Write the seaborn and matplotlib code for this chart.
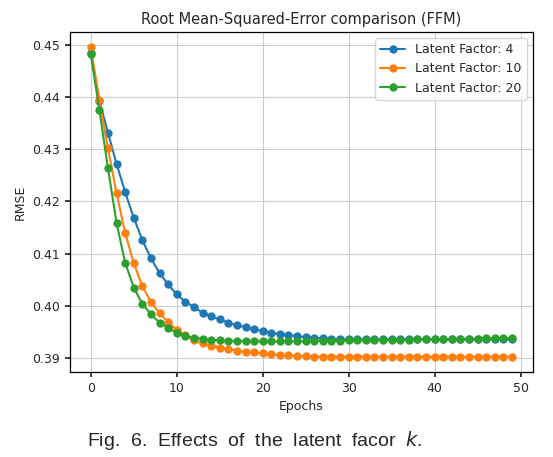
import numpy as np
import pandas as pd
import seaborn as sns
import matplotlib.pyplot as plt

epochs = list(range(50))

rmse_k4 = [
    0.4485, 0.4393, 0.4332, 0.4272, 0.4218, 0.4169, 0.4126, 0.4091, 0.4063, 0.4041,
    0.4022, 0.4008, 0.3998, 0.3987, 0.3980, 0.3974, 0.3968, 0.3963, 0.3959, 0.3955,
    0.3952, 0.3949, 0.3946, 0.3944, 0.3942, 0.3940, 0.3939, 0.3938, 0.3937, 0.3936,
    0.3936, 0.3936, 0.3936, 0.3936, 0.3936, 0.3936, 0.3936, 0.3936, 0.3936, 0.3936,
    0.3936, 0.3936, 0.3936, 0.3936, 0.3936, 0.3936, 0.3936, 0.3936, 0.3936, 0.3936,
]
rmse_k10 = [
    0.4495, 0.4395, 0.4302, 0.4216, 0.4140, 0.4082, 0.4038, 0.4007, 0.3986, 0.3969,
    0.3954, 0.3944, 0.3934, 0.3928, 0.3924, 0.3920, 0.3917, 0.3914, 0.3912, 0.3911,
    0.3909, 0.3907, 0.3906, 0.3905, 0.3904, 0.3904, 0.3903, 0.3903, 0.3903, 0.3903,
    0.3903, 0.3903, 0.3903, 0.3903, 0.3903, 0.3903, 0.3903, 0.3903, 0.3903, 0.3903,
    0.3903, 0.3903, 0.3903, 0.3903, 0.3903, 0.3903, 0.3903, 0.3903, 0.3903, 0.3903,
]
rmse_k20 = [
    0.4482, 0.4376, 0.4264, 0.4159, 0.4083, 0.4035, 0.4004, 0.3984, 0.3968, 0.3958,
    0.3948, 0.3943, 0.3939, 0.3937, 0.3935, 0.3934, 0.3933, 0.3933, 0.3932, 0.3932,
    0.3932, 0.3932, 0.3932, 0.3932, 0.3932, 0.3932, 0.3933, 0.3933, 0.3933, 0.3933,
    0.3934, 0.3934, 0.3934, 0.3934, 0.3935, 0.3935, 0.3935, 0.3935, 0.3936, 0.3936,
    0.3936, 0.3936, 0.3937, 0.3937, 0.3937, 0.3937, 0.3938, 0.3938, 0.3938, 0.3938,
]
series_labels = ["Latent Factor: 4", "Latent Factor: 10", "Latent Factor: 20"]

df = pd.DataFrame({
    "epoch": epochs * 3,
    "rmse": rmse_k4 + rmse_k10 + rmse_k20,
    "factor": [series_labels[0]] * 50 + [series_labels[1]] * 50 + [series_labels[2]] * 50,
})

sns.set_theme(style="ticks", rc={"axes.grid": True, "grid.color": "#cccccc",
                                 "grid.linewidth": 0.8, "axes.edgecolor": "black"})
plt.rcParams["font.family"] = ["DejaVu Sans"]

fig = plt.figure(figsize=(5.53, 4.57), dpi=100)
ax = fig.add_axes([0.126, 0.186, 0.838, 0.744])

sns.lineplot(data=df, x="epoch", y="rmse", hue="factor", palette="tab10",
             marker="o", markersize=6, markeredgewidth=0, linewidth=1.5,
             ax=ax)

ax.set_title("Root Mean-Squared-Error comparison (FFM)", fontsize=10.5)
ax.set_xlabel("Epochs", fontsize=9)
ax.set_ylabel("RMSE", fontsize=9)
ax.set_xticks([0, 10, 20, 30, 40, 50])
ax.set_yticks([0.39, 0.40, 0.41, 0.42, 0.43, 0.44, 0.45])
ax.tick_params(labelsize=9, direction="out", length=3.5)
for s in ax.spines.values():
    s.set_linewidth(0.9)

ax.legend(loc="upper right", fontsize=9, title=None, frameon=True)

# caption below the plot, as in the paper
fig.text(0.46, 0.037, "Fig.  6.  Effects  of  the  latent  facor  $k$.",
         ha="center", va="center", fontsize=14, family="Liberation Sans")

fig.savefig("out.png", dpi=100)
